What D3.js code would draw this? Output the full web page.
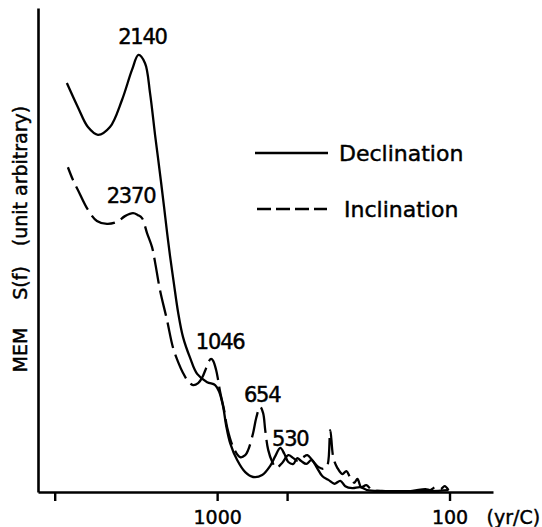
<!DOCTYPE html>
<html>
<head>
<meta charset="utf-8">
<script src="https://cdn.jsdelivr.net/npm/d3@7"></script>
<style>
  body { margin: 0; background: #fff; }
  svg { display: block; }
  text { font-family: "DejaVu Sans", sans-serif; fill: #000; stroke: #000; stroke-width: 0.45px; }
</style>
</head>
<body>
<div id="chart"></div>
<script>
// Data (period in years, spectral power in arbitrary units)
const declPeriod = [4433, 3973, 3597, 3258, 2892, 2567, 2325, 2180, 2043, 1944, 1850, 1796, 1743, 1692,
    1643, 1595, 1532, 1473, 1402, 1307, 1219, 1104, 1020, 980, 942, 915, 879, 820, 757, 700, 640, 591, 562,
    535, 514, 494, 470, 452, 435, 413, 393, 374, 353, 332, 313, 295, 281, 262, 242, 226, 198, 163, 121, 101];
const declValue = [84.5, 79.5, 75.4, 73.8, 75.4, 81.0, 87.2, 90.3, 88.6, 82.4, 73.8, 69.0, 64.0, 58.9,
    53.7, 48.8, 42.8, 37.2, 32.0, 27.7, 24.4, 22.7, 22.1, 20.7, 17.6, 13.8, 10.1, 6.6, 4.1, 3.1, 3.5, 5.4, 7.4,
    9.1, 7.9, 6.2, 5.8, 7.0, 6.4, 5.8, 6.6, 5.2, 3.3, 2.5, 1.7, 2.3, 1.2, 0.8, 1.0, 0.4, 0.2, 0.2, 0.2, 0.4];

const inclPeriod = [4387, 4175, 3973, 3597, 3290, 2979, 2698, 2492, 2301, 2190, 2105, 2003, 1906, 1850,
    1761, 1643, 1548, 1473, 1402, 1334, 1269, 1207, 1161, 1115, 1083, 1061, 1040, 1010, 990, 971, 933,
    906, 853, 796, 757, 735, 700, 679, 653, 634, 621, 603, 579, 557, 525, 494, 470, 448, 426, 409, 390,
    367, 349, 336, 326, 316, 304, 289, 278, 267, 257, 249, 240, 228, 215, 189, 147, 127, 121, 115, 109, 105, 101];
const inclValue = [67.1, 64.5, 62.4, 58.3, 56.0, 55.4, 55.8, 57.0, 57.6, 57.2, 56.6, 53.5, 50.6, 47.5,
    41.7, 35.5, 29.8, 26.9, 24.6, 22.9, 22.1, 22.5, 23.6, 25.6, 27.1, 27.5, 27.1, 25.2, 23.1, 20.7, 16.9,
    13.4, 9.3, 7.2, 7.6, 8.7, 12.2, 15.3, 17.6, 16.3, 12.8, 8.7, 6.2, 5.0, 6.0, 7.6, 7.0, 6.4, 7.2, 7.6, 6.6,
    5.2, 4.8, 5.4, 12.8, 7.0, 5.0, 3.7, 4.3, 2.9, 1.9, 2.7, 1.0, 1.4, 0.4, 0.2, 0.2, 0.6, 0.4, 1.0, 0.6, 1.2, 0.4];

const seriesNames = ['Declination', 'Inclination'];
const peakText = ['2140', '2370', '1046', '654', '530'];
const peakSeries = ['Declination', 'Inclination', 'Inclination', 'Inclination', 'Declination'];
const peakPeriod = [2180, 2301, 1061, 653, 535];

const tickValues = [5000, 1000, 500, 100];
const tickLabels = { 1000: '1000', 100: '100' };
const xUnit = '(yr/C)';
const yLabelParts = ['MEM', 'S(f)', '(unit arbitrary)'];

// Layout
const W = 542, H = 527;
const margin = { top: 8, right: 49, bottom: 35, left: 38 };
const width = W - margin.left - margin.right;
const height = H - margin.top - margin.bottom;

const svg = d3.select('#chart').append('svg')
    .attr('width', W)
    .attr('height', H);

const g = svg.append('g')
    .attr('transform', `translate(${margin.left},${margin.top})`);

// Scales: period on a reversed log axis
const x = d3.scaleLog().domain([5900, 65]).range([0, width]);
const y = d3.scaleLinear().domain([0, 100]).range([height, 0]);

const series = {
    Declination: declPeriod.map((p, i) => ({ p, v: declValue[i] })),
    Inclination: inclPeriod.map((p, i) => ({ p, v: inclValue[i] }))
};

const line = d3.line()
    .x(d => x(d.p))
    .y(d => y(d.v))
    .curve(d3.curveCatmullRom.alpha(0.5));

const dash = { Declination: null, Inclination: '26,7' };

seriesNames.forEach(name => {
    g.append('path')
        .datum(series[name])
        .attr('fill', 'none')
        .attr('stroke', '#000')
        .attr('stroke-width', 2.3)
        .attr('stroke-linejoin', 'round')
        .attr('stroke-dasharray', dash[name])
        .attr('stroke-dashoffset', name === 'Inclination' ? 12 : null)
        .attr('d', line);
});

// Axes
const xAxis = g.append('g')
    .attr('transform', `translate(0,${height})`)
    .call(d3.axisBottom(x)
        .tickValues(tickValues)
        .tickFormat(d => tickLabels[d] || '')
        .tickSize(9)
        .tickSizeOuter(0)
        .tickPadding(10));

xAxis.select('.domain').attr('stroke-width', 2.6);
xAxis.selectAll('.tick line').attr('stroke-width', 2.4);
xAxis.selectAll('.tick text')
    .style('font-size', '19px')
    .style('font-family', '"DejaVu Sans", sans-serif');

xAxis.append('text')
    .attr('x', x(100) + 37)
    .attr('y', 19)
    .attr('dy', '0.71em')
    .attr('text-anchor', 'start')
    .style('font-size', '19px')
    .text(xUnit);

const yAxis = g.append('g')
    .call(d3.axisLeft(y).tickValues([]).tickSizeOuter(0));
yAxis.select('.domain').attr('stroke-width', 2.6);

// Y label, three pieces along the axis
const yLabelCenters = [350, 283, 176];
yLabelParts.forEach((t, i) => {
    svg.append('text')
        .attr('transform', `translate(20,${yLabelCenters[i]}) rotate(-90)`)
        .attr('text-anchor', 'middle')
        .attr('dominant-baseline', 'central')
        .style('font-size', '19px')
        .text(t);
});

// Peak annotations
const peakOffsets = [[4, -18], [-2, -17], [9, -17], [2, -12], [10, -9]];
peakText.forEach((t, i) => {
    const pt = series[peakSeries[i]].find(d => d.p === peakPeriod[i]);
    g.append('text')
        .attr('x', x(pt.p) + peakOffsets[i][0])
        .attr('y', y(pt.v) + peakOffsets[i][1])
        .attr('text-anchor', 'middle')
        .attr('dominant-baseline', 'central')
        .style('font-size', '21px')
        .style('letter-spacing', '-1.2px')
        .text(t);
});

// Legend
const legend = svg.append('g');
const legendRows = [
    { y: 153, x1: 255, x2: 328, tx: 339 },
    { y: 209, x1: 257, x2: 327, tx: 344 }
];
seriesNames.forEach((name, i) => {
    const r = legendRows[i];
    legend.append('line')
        .attr('x1', r.x1).attr('x2', r.x2)
        .attr('y1', r.y).attr('y2', r.y)
        .attr('stroke', '#000')
        .attr('stroke-width', 2.4)
        .attr('stroke-dasharray', name === 'Inclination' ? '14,5' : null);
    legend.append('text')
        .attr('x', r.tx)
        .attr('y', r.y)
        .attr('dominant-baseline', 'central')
        .style('font-size', '22px')
        .text(name);
});
</script>
</body>
</html>
